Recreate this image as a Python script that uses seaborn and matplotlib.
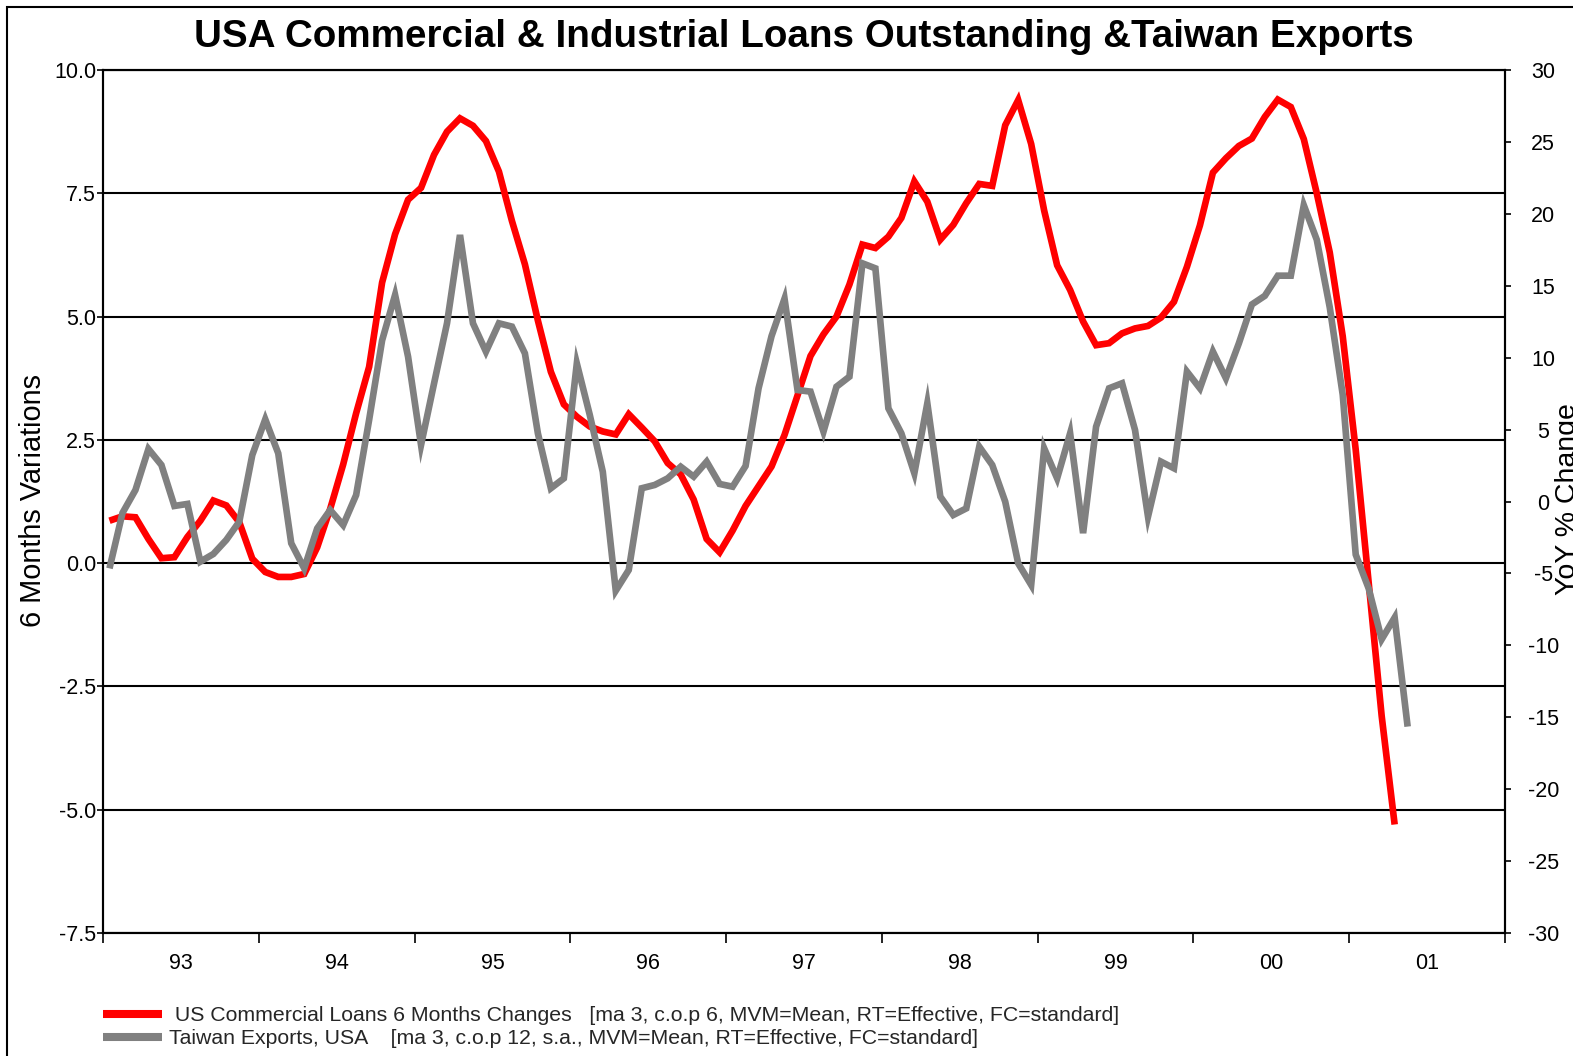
import numpy as np
import pandas as pd
import matplotlib
matplotlib.use("Agg")
import matplotlib.pyplot as plt
import seaborn as sns
from matplotlib.patches import Rectangle
from matplotlib.lines import Line2D

# ---------------- data (monthly, Jan 1993 onwards) ----------------
loans_6m_change = [
    0.86, 0.95, 0.93, 0.49, 0.10, 0.12, 0.53, 0.86, 1.27, 1.17, 0.83, 0.09,   # 1993
    -0.18, -0.28, -0.28, -0.22, 0.32, 1.10, 2.00, 3.04, 3.98, 5.69, 6.67, 7.37,  # 1994
    7.61, 8.28, 8.75, 9.02, 8.87, 8.56, 7.94, 6.94, 6.06, 4.92, 3.88, 3.22,   # 1995
    2.97, 2.77, 2.67, 2.61, 3.02, 2.75, 2.47, 2.03, 1.80, 1.29, 0.49, 0.22,   # 1996
    0.66, 1.16, 1.56, 1.96, 2.60, 3.40, 4.20, 4.64, 5.00, 5.65, 6.46, 6.39,   # 1997
    6.62, 7.00, 7.74, 7.33, 6.56, 6.86, 7.30, 7.69, 7.65, 8.88, 9.39, 8.50,   # 1998
    7.15, 6.04, 5.54, 4.90, 4.42, 4.46, 4.66, 4.76, 4.81, 4.98, 5.30, 6.01,   # 1999
    6.85, 7.92, 8.21, 8.46, 8.61, 9.05, 9.40, 9.25, 8.60, 7.50, 6.30, 4.60,   # 2000
    2.30, -0.40, -3.10, -5.30,                                                 # 2001
]
taiwan_exports_yoy = [
    -4.65, -0.80, 0.80, 3.65, 2.54, -0.31, -0.17, -4.18, -3.65, -2.67, -1.40, 3.23,
    5.71, 3.35, -2.90, -4.65, -1.87, -0.59, -1.64, 0.45, 5.67, 11.20, 14.36, 10.07,
    3.93, 8.20, 12.39, 18.53, 12.39, 10.42, 12.39, 12.16, 10.30, 4.74, 0.92, 1.61,
    9.60, 6.01, 2.07, -6.20, -4.76, 0.92, 1.15, 1.61, 2.42, 1.73, 2.77, 1.22,
    1.03, 2.47, 7.87, 11.50, 14.10, 7.75, 7.64, 4.86, 7.98, 8.68, 16.56, 16.21,
    6.48, 4.74, 1.96, 6.83, 0.34, -0.94, -0.48, 3.81, 2.54, -0.01, -4.30, -5.80,
    3.70, 1.61, 4.74, -2.20, 5.20, 7.87, 8.22, 4.97, -1.05, 2.77, 2.31, 9.03,
    7.87, 10.42, 8.57, 11.00, 13.70, 14.30, 15.70, 15.70, 20.60, 18.20, 13.50, 7.42,
    -3.69, -6.05, -9.58, -8.07, -15.65,
]
start_year = 1993
year_labels = ["93", "94", "95", "96", "97", "98", "99", "00", "01"]
left_ticks = [10.0, 7.5, 5.0, 2.5, 0.0, -2.5, -5.0, -7.5]
right_ticks = [30, 25, 20, 15, 10, 5, 0, -5, -10, -15, -20, -25, -30]

title = "USA Commercial & Industrial Loans Outstanding &Taiwan Exports"
label_loans = " US Commercial Loans 6 Months Changes   [ma 3, c.o.p 6, MVM=Mean, RT=Effective, FC=standard]"
label_exports = "Taiwan Exports, USA    [ma 3, c.o.p 12, s.a., MVM=Mean, RT=Effective, FC=standard]"

df_loans = pd.DataFrame({
    "date": start_year + (np.arange(len(loans_6m_change)) + 0.5) / 12.0,
    "value": loans_6m_change,
})
df_exp = pd.DataFrame({
    "date": start_year + (np.arange(len(taiwan_exports_yoy)) + 0.5) / 12.0,
    "value": taiwan_exports_yoy,
})

# ---------------- style ----------------
sns.set_theme(style="white")
plt.rcParams["font.family"] = ["Liberation Sans", "DejaVu Sans"]
plt.rcParams["axes.unicode_minus"] = False

W, H = 1573, 1056
fig = plt.figure(figsize=(W / 100, H / 100), dpi=100)
fig.patch.set_facecolor("white")

ax = fig.add_axes([103 / W, 1 - 933 / H, 1402 / W, 863 / H])
ax2 = ax.twinx()

RED = "#ff0000"
GRAY = "#808080"
LW = 4.8

sns.lineplot(data=df_loans, x="date", y="value", ax=ax, color=RED, linewidth=LW,
             solid_capstyle="butt", solid_joinstyle="miter", legend=False)
sns.lineplot(data=df_exp, x="date", y="value", ax=ax2, color=GRAY, linewidth=LW,
             solid_capstyle="butt", solid_joinstyle="miter", legend=False)

ax.set_xlim(start_year, start_year + 9)
ax.set_ylim(-7.5, 10.0)
ax2.set_ylim(-30, 30)
for a in (ax, ax2):
    a.set_xlabel("")
    a.set_ylabel("")

# left y axis
ax.set_yticks(left_ticks)
ax.set_yticklabels([f"{v:.1f}" for v in left_ticks])
ax.yaxis.grid(True, color="black", linewidth=1.5)
ax.xaxis.grid(False)
ax.tick_params(axis="y", left=True, length=4.5, width=1.2, pad=0.5,
               labelsize=15.5, colors="black", direction="out")

# right y axis
ax2.set_yticks(right_ticks)
ax2.set_yticklabels([str(v) for v in right_ticks])
ax2.grid(False)
ax2.tick_params(axis="y", right=True, length=4.5, width=1.2, pad=23,
                labelsize=15.5, colors="black", direction="out")
for t in ax2.get_yticklabels():
    t.set_horizontalalignment("center")

# x axis: year boundaries as ticks, labels centred in each year
ax.set_xticks(np.arange(start_year, start_year + 10))
ax.set_xticklabels([])
ax.set_xticks(np.arange(start_year, start_year + 9) + 0.5, minor=True)
ax.set_xticklabels(year_labels, minor=True)
ax.tick_params(axis="x", which="major", bottom=True, length=7.2, width=1.2,
               direction="out", colors="black")
ax.tick_params(axis="x", which="minor", bottom=True, length=0, pad=14.5,
               labelsize=15.5, colors="black")

for a in (ax, ax2):
    for s in a.spines.values():
        s.set_color("black")
        s.set_linewidth(1.5)
        s.set_visible(True)

# texts
fig.text(804 / W, 1 - 37 / H, title, ha="center", va="center",
         fontsize=27.8, fontweight="bold", color="black")
fig.text(33 / W, 1 - 501 / H, "6 Months Variations", rotation=90,
         ha="center", va="center", fontsize=20.8, color="black")
# the reference shows this label running off the right edge of the picture
fig.text(1555 / W, 1 - 499 / H, "YoY % Change", rotation=90,
         ha="left", va="center", fontsize=20.5, color="black")

# legend
handles = [Line2D([], [], color=RED, linewidth=5.8, solid_capstyle="butt"),
           Line2D([], [], color=GRAY, linewidth=5.8, solid_capstyle="butt")]
fig.legend(handles, [label_loans, label_exports], loc="upper left",
           bbox_to_anchor=(103 / W, 1 - 1006 / H), frameon=False,
           fontsize=15.3, handlelength=2.8, handletextpad=0.3,
           labelspacing=0.2, borderpad=0, borderaxespad=0)

# outer frame of the figure
fig.patches.append(Rectangle((7 / W, -0.05), 1.2, 1 - 7 / H + 0.05,
                             transform=fig.transFigure, fill=False,
                             edgecolor="black", linewidth=1.5))

fig.savefig("out.png", dpi=100, facecolor="white")
